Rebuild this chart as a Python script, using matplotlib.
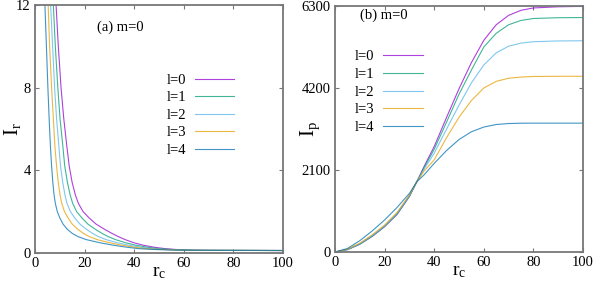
import matplotlib
matplotlib.use("Agg")
import matplotlib.pyplot as plt

plt.rcParams['font.family'] = ['Liberation Serif', 'DejaVu Serif']
plt.rcParams['mathtext.fontset'] = 'custom'
plt.rcParams['mathtext.rm'] = 'Liberation Serif'
plt.rcParams['mathtext.it'] = 'Liberation Serif'

labels = ["l=0", "l=1", "l=2", "l=3", "l=4"]
colors = ["#9400d3", "#009e73", "#56b4e9", "#e69f00", "#0072b2"]

# Panel (a): I_r levels and the r_c at which each curve reaches them
ir_levels = [12, 10, 8, 6.5, 5.2, 4.2, 3.4, 2.8, 2.4, 2.0, 1.7, 1.4, 1.15, 0.95,
             0.8, 0.65, 0.5, 0.38, 0.28, 0.21, 0.17, 0.14, 0.13, 0.12]
rc_l0 = [8.5, 9.4, 10.5, 11.6, 12.8, 13.8, 15.0, 16.3, 17.5, 19.4, 21.8, 24.6, 28.0, 31.0,
         33.5, 36.3, 39.8, 43.5, 48.0, 52.5, 57.0, 63.0, 70.0, 100]
rc_l1 = [7.4, 8.2, 9.2, 10.1, 11.2, 12.0, 13.1, 14.2, 15.2, 16.8, 18.9, 21.3, 24.3, 27.0,
         29.4, 32.4, 36.4, 40.5, 45.3, 49.8, 54.8, 61.3, 68.8, 100]
rc_l2 = [6.3, 7.1, 7.9, 8.7, 9.6, 10.3, 11.2, 12.1, 12.9, 14.3, 16.0, 18.1, 20.7, 23.2,
         25.5, 28.6, 33.0, 37.6, 42.6, 47.3, 52.6, 59.6, 67.6, 100]
rc_l3 = [5.3, 5.9, 6.7, 7.4, 8.0, 8.7, 9.4, 10.1, 10.8, 11.9, 13.3, 15.0, 17.2, 19.5,
         21.8, 25.0, 29.9, 34.8, 40.1, 44.8, 50.5, 58.0, 66.4, 100]
rc_l4 = [4.0, 4.6, 5.2, 5.7, 6.2, 6.7, 7.2, 7.7, 8.2, 9.0, 10.0, 11.3, 13.0, 15.0,
         17.2, 20.6, 26.0, 31.4, 37.0, 41.8, 48.0, 56.0, 65.0, 100]
rc_a = [rc_l0, rc_l1, rc_l2, rc_l3, rc_l4]

# Panel (b): I_p vs r_c
rc_b = [0, 5, 10, 15, 20, 25, 30, 33, 36, 40, 45, 50, 55, 60, 65, 70, 75, 80, 90, 100]
ip_l0 = [0, 60, 200, 400, 650, 960, 1420, 1800, 2200, 2700, 3450, 4180, 4850, 5420, 5820, 6060, 6190, 6250, 6280, 6290]
ip_l1 = [0, 60, 200, 405, 655, 970, 1430, 1800, 2170, 2630, 3330, 4040, 4660, 5250, 5600, 5820, 5930, 5980, 6000, 6005]
ip_l2 = [0, 65, 210, 415, 665, 985, 1440, 1800, 2130, 2530, 3150, 3760, 4330, 4790, 5100, 5270, 5350, 5385, 5405, 5410]
ip_l3 = [0, 70, 225, 440, 690, 1010, 1460, 1800, 2080, 2360, 2930, 3450, 3880, 4200, 4370, 4450, 4480, 4495, 4500, 4500]
ip_l4 = [0, 90, 290, 540, 820, 1140, 1500, 1800, 1980, 2270, 2600, 2880, 3080, 3200, 3265, 3290, 3298, 3300, 3300, 3300]
ip = [ip_l0, ip_l1, ip_l2, ip_l3, ip_l4]

xticks = [0, 20, 40, 60, 80, 100]
yticks_a = [0, 4, 8, 12]
yticks_b = [0, 2100, 4200, 6300]

fig = plt.figure(figsize=(5.97, 2.84), dpi=100)
axa = fig.add_axes([35/597, 1-253/284, 248/597, 248/284])
axb = fig.add_axes([335/597, 1-252/284, 248/597, 246/284])

def style(ax):
    for s in ax.spines.values():
        s.set_color("#777777")
        s.set_linewidth(1.3)
    ax.tick_params(direction='in', length=3, width=0.8, color="#777777",
                   top=True, right=True, labelsize=10.5, pad=3)
    ax.set_xlim(0, 100)
    ax.set_xticks(xticks)

for r, c, lab in zip(rc_a, colors, labels):
    axa.plot(r, ir_levels, color=c, lw=0.8, alpha=0.75, label=lab)
style(axa)
axa.set_ylim(0, 12)
axa.set_yticks(yticks_a)
axa.set_xlabel(r"r$_\mathregular{c}$", fontsize=14)
axa.set_ylabel(r"I$_\mathregular{r}$", fontsize=15)
axa.xaxis.set_label_coords(0.5, -0.078)
axa.xaxis.label.set_va('center')
axa.yaxis.set_label_coords(-0.09, 0.5)
axa.yaxis.label.set_va('center')
axa.text(0.25, 0.911, "(a) m=0", transform=axa.transAxes, fontsize=10.5, va='center', ha='left')
axa.legend(loc='upper left', bbox_to_anchor=(0.53, 0.724), frameon=False, markerfirst=False,
           fontsize=10.5, handlelength=2.7, handletextpad=0.6, labelspacing=0.3,
           borderpad=0, borderaxespad=0)

for v, c, lab in zip(ip, colors, labels):
    axb.plot(rc_b, v, color=c, lw=0.8, alpha=0.75, label=lab)
style(axb)
axb.set_ylim(0, 6300)
axb.set_yticks(yticks_b)
axb.set_xlabel(r"r$_\mathregular{c}$", fontsize=14)
axb.set_ylabel(r"I$_\mathregular{p}$", fontsize=15)
axb.xaxis.set_label_coords(0.5, -0.08)
axb.xaxis.label.set_va('center')
axb.yaxis.set_label_coords(-0.1, 0.5)
axb.yaxis.label.set_va('center')
axb.text(0.10, 0.963, "(b) m=0", transform=axb.transAxes, fontsize=10.5, va='center', ha='left')
axb.legend(loc='upper left', bbox_to_anchor=(0.08, 0.82), frameon=False, markerfirst=False,
           fontsize=10.5, handlelength=2.7, handletextpad=0.6, labelspacing=0.3,
           borderpad=0, borderaxespad=0)

fig.savefig("out.png", dpi=100)
